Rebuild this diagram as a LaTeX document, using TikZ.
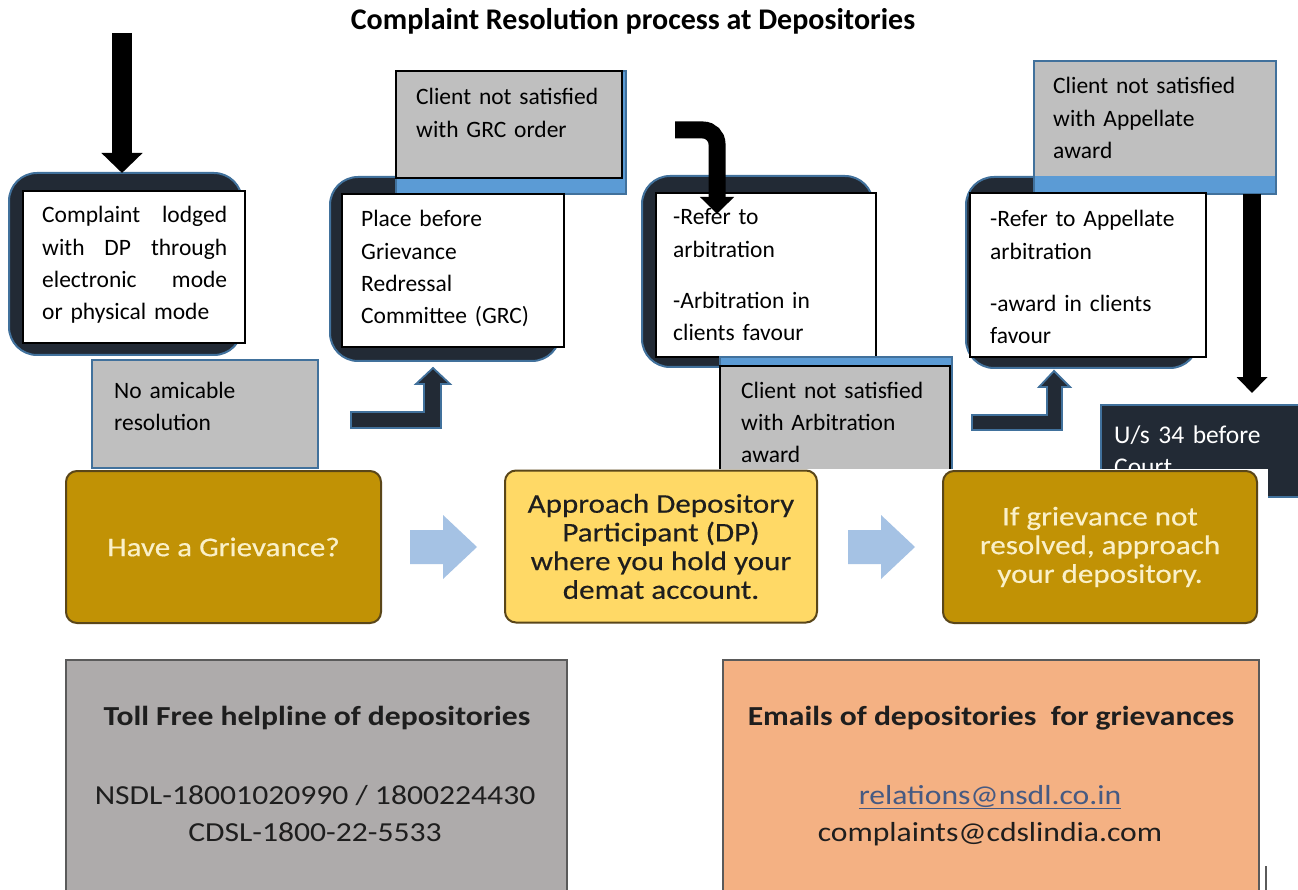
\documentclass[tikz,border=0pt]{standalone}
\usepackage{fontspec}
\setmainfont{Carlito}
\newfontfamily\picfont[FakeStretch=1.15]{Carlito}
\newfontfamily\safont[FakeStretch=1.15,FakeBold=0.4]{Carlito}
\usetikzlibrary{arrows.meta,calc}
\definecolor{navy}{RGB}{34,42,53}
\definecolor{bborder}{RGB}{65,113,156}
\definecolor{bstrip}{RGB}{91,155,213}
\definecolor{gbox}{RGB}{191,191,191}
\definecolor{gold}{RGB}{193,146,5}
\definecolor{goldedge}{RGB}{90,70,25}
\definecolor{lyellow}{RGB}{255,217,102}
\definecolor{lblue}{RGB}{165,194,228}
\definecolor{graybot}{RGB}{174,171,171}
\definecolor{orangebot}{RGB}{244,177,131}
\definecolor{cream}{RGB}{250,240,200}
\definecolor{linkc}{RGB}{70,90,130}
\definecolor{dtext}{RGB}{30,30,30}
\definecolor{edgegray}{RGB}{90,90,90}
\newcommand{\mkbox}[6]{%
  \node[#1, anchor=north west, inner sep=0pt, outer sep=0pt,
        minimum width={(#5-#3)*1pt}, minimum height={(#6-#4)*1pt}] (#2) at (#3,#4) {};}
\newcommand{\jline}[1]{\leavevmode\hbox to 185pt{#1}}
\tikzset{
  rbox/.style={fill=navy, draw=bborder, line width=2pt, rounded corners=28pt},
  wbox/.style={fill=white, draw=black, line width=1.2pt},
  gbx/.style={fill=gbox, draw=bborder, line width=1.5pt},
  gbxk/.style={fill=gbox, draw=black, line width=1.5pt},
  strip/.style={fill=bstrip, draw=bborder, line width=1.5pt},
  body/.style={anchor=base west, inner sep=0pt, text width=#1, align=left,
               font=\fontsize{23.5}{32.3}\selectfont},
  body/.default=240pt,
  elbow/.style={fill=navy, draw=bborder, line width=1.8pt},
  blkarrow/.style={draw=black, line width=#1},
  sabox/.style={rounded corners=11pt, draw=goldedge, line width=2pt,
                minimum height=152pt, align=center, inner sep=0pt,
                font={\safont\fontsize{27}{28.7}\selectfont}},
  sarrow/.style={fill=lblue, draw=none},
  pictext/.style={anchor=base, inner sep=0pt, text=dtext,
                  font={\picfont\fontsize{27.5}{33}\selectfont}},
}
\begin{document}
\begin{tikzpicture}[x=1pt,y=-1pt]
\useasboundingbox (0,0) rectangle (1298,890);
\fill[white] (0,0) rectangle (1298,890);

% title
\node[anchor=base, inner sep=0pt, font=\bfseries\fontsize{30}{36}\selectfont] (title) at (633,30)
  {Complaint Resolution process at Depositories};

% ---- stage 1
\mkbox{rbox}{rb1}{9}{173}{242}{355}
\mkbox{wbox}{wb1}{23}{191}{245}{343}
\node[body=190pt] (t1) at (42,223)
  {\jline{Complaint\hfill lodged}\\\jline{with\hfill DP\hfill through}\\\jline{electronic\hfill mode}\\or physical mode};
\mkbox{gbx}{na}{92}{360}{318}{468}
\node[body] (tna) at (114,398) {No amicable\\resolution};

% ---- stage 2
\mkbox{rbox}{rb2}{330}{177}{560}{361}
\mkbox{strip}{grcs}{396}{71}{626}{194}
\mkbox{gbxk}{grc}{396}{71}{622}{178}
\node[body] (tgrc) at (416,105) {Client not satisfied\\with GRC order};
\mkbox{wbox}{wb2}{342}{194}{564}{347}
\node[body] (t2) at (361,227) {Place before\\Grievance\\Redressal\\Committee (GRC)};

% ---- stage 3
\mkbox{rbox}{rb3}{642}{176}{873}{367}
\mkbox{wbox}{wb3}{656}{193}{876}{357}
\node[body] (t3) at (673,225) {-Refer to\\arbitration\\[18.7pt]-Arbitration in\\clients favour};
\mkbox{strip}{arbs}{720}{357}{952}{490}
\mkbox{gbxk}{arb}{720}{366}{950}{490}
\node[body] (tarb) at (741,398) {Client not satisfied\\with Arbitration\\award};

% ---- stage 4
\mkbox{rbox}{rb4}{966}{177}{1198}{368}
\mkbox{strip}{apps}{1034}{61}{1276}{194}
\node[fill=gbox, anchor=north west, inner sep=0pt, outer sep=0pt,
      minimum width=240.5pt, minimum height=114.25pt] (app) at (1034.75,61.75) {};
\node[body] (tapp) at (1053,94) {Client not satisfied\\with Appellate\\award};
\mkbox{wbox}{wb4}{970}{193}{1206}{357}
\node[body] (t4) at (990,227) {-Refer to Appellate\\arbitration\\[19.5pt]-award in clients\\favour};

% ---- court box
\mkbox{fill=navy, draw=bborder, line width=2pt}{us}{1101}{405}{1312}{497}
\node[body, text=white, font=\fontsize{25.5}{32}\selectfont] (tus) at (1114,443) {U/s 34 before\\Court};

% ---- black arrows
\coordinate (a1s) at (122,33);
\draw[blkarrow=20pt, -{Triangle[length=20pt,width=40pt]}] (a1s) -- (a1s |- rb1.north);
\coordinate (a3s) at (675,130);
\coordinate (a3e) at (717,214);
\draw[blkarrow=17pt, rounded corners=14pt, -{Triangle[length=17pt,width=33pt]}] (a3s) -| (a3e);
\coordinate (a4s) at (1252,194);
\coordinate (a4e) at (1252,393);
\draw[blkarrow=18pt, -{Triangle[length=16pt,width=30pt]}] (a4s) -- (a4e);

% ---- elbow block arrows
\filldraw[elbow] (351,412) -- (424,412) -- (424,384) -- (416,384) -- (433,368) -- (450,384)
  -- (441,384) -- (441,428) -- (351,428) -- cycle;
\filldraw[elbow] (972,415) -- (1047,415) -- (1047,387) -- (1039,387) -- (1054,371) -- (1070,387)
  -- (1062,387) -- (1062,430) -- (972,430) -- cycle;

% ---- pasted picture area
\fill[white] (0,469) rectangle (1268,890);
\draw[edgegray, line width=1.5pt] (1266,866) -- (1266,890);

\node[sabox, fill=gold, text=cream, minimum width=315pt] (hg) at (223.5,547) {Have a Grievance?};
\node[sabox, fill=lyellow, text=dtext, minimum width=312pt] (adp) at (661,546.5)
  {Approach Depository\\Participant (DP)\\where you hold your\\demat account.};
\node[sabox, fill=gold, text=cream, minimum width=314pt] (ifg) at (1100,547)
  {If grievance not\\resolved, approach\\your depository.};
\fill[sarrow] (410,530) -- (443,530) -- (443,515) -- (477,547) -- (443,579) -- (443,564) -- (410,564) -- cycle;
\fill[sarrow] (848,530) -- (881,530) -- (881,515) -- (915,547) -- (881,579) -- (881,564) -- (848,564) -- cycle;

\mkbox{fill=graybot, draw=edgegray, line width=1.5pt}{tf}{66}{660}{567}{900}
\mkbox{fill=orangebot, draw=edgegray, line width=1.5pt}{em}{723}{660}{1259}{900}
\node[pictext, font={\picfont\bfseries\fontsize{27.5}{33}\selectfont}] (tfh) at (317,725) {Toll Free helpline of depositories};
\node[pictext] (nsdl) at (315,804) {NSDL-18001020990 / 1800224430};
\node[pictext] (cdsl) at (315,841) {CDSL-1800-22-5533};
\node[pictext, font={\picfont\bfseries\fontsize{27.5}{33}\selectfont}] (emh) at (991,725) {Emails of depositories\ \ for grievances};
\node[pictext, text=linkc] (rel) at (990,804) {\underline{relations@nsdl.co.in}};
\node[pictext] (cmp) at (990,841) {complaints@cdslindia.com};
\end{tikzpicture}
\end{document}
